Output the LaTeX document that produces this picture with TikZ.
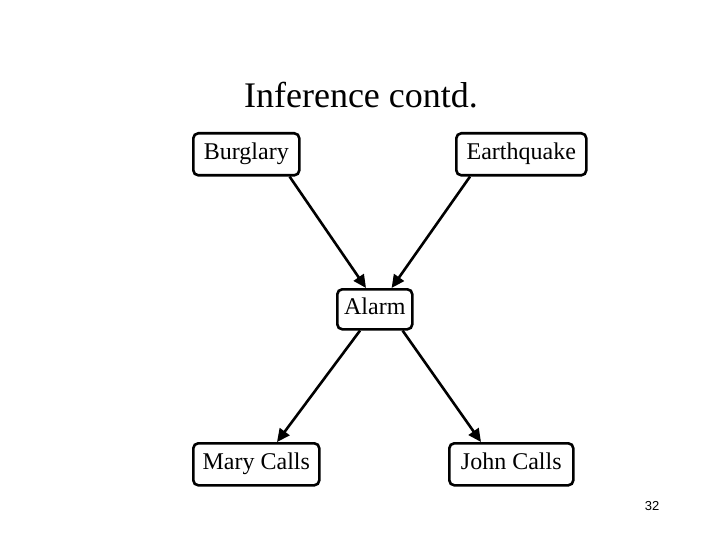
\documentclass[tikz,border=0pt]{standalone}
\usepackage{fontspec}
\setmainfont{Liberation Serif}
\newfontfamily\numfont{Liberation Sans}
\usetikzlibrary{calc,arrows.meta}
\begin{document}
\begin{tikzpicture}[x=1pt,y=-1pt,
  netbox/.style={draw, line width=2.6pt, rounded corners=5pt, minimum height=42pt, text height=16pt, text depth=5pt, inner sep=0pt, anchor=north west, font=\fontsize{24}{28}\selectfont},
  link/.style={line width=2.6pt, -{Triangle[length=13pt,width=12pt]}}]
\useasboundingbox (0,0) rectangle (720,540);
\node[font=\fontsize{36}{42}\selectfont] (title) at (361,95) {Inference contd.};
\node[netbox, minimum width=106pt] (burg) at (192,132) {Burglary};
\node[netbox, minimum width=130pt] (earth) at (455,132) {Earthquake};
\node[netbox, minimum width=75pt, minimum height=40pt] (alarm) at (336,288) {Alarm};
\node[netbox, minimum width=126pt] (mary) at (192,442) {Mary Calls};
\node[netbox, minimum width=124pt] (john) at (448,442) {John Calls};
\node[font=\numfont\fontsize{13}{15}\selectfont] (page) at (652,506) {32};
\draw[link] ($(burg.south east)+(-11,0)$) -- ($(alarm.north west)+(30,0)$);
\draw[link] ($(earth.south west)+(15,0)$) -- ($(alarm.north east)+(-22,0)$);
\draw[link] ($(alarm.south west)+(24,0)$) -- ($(mary.north west)+(85,0)$);
\draw[link] ($(alarm.south east)+(-11,0)$) -- ($(john.north west)+(33,0)$);
\end{tikzpicture}
\end{document}
